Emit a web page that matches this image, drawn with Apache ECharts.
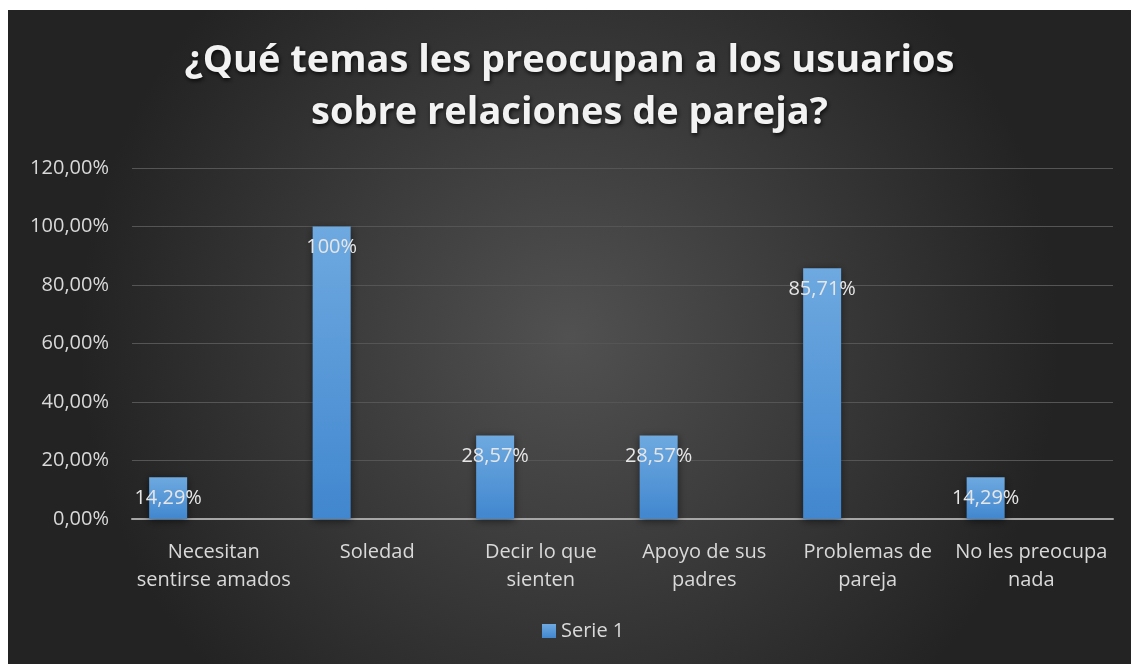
<!DOCTYPE html>
<html>
<head>
<meta charset="utf-8">
<script src="https://cdn.jsdelivr.net/npm/echarts@6/dist/echarts.min.js"></script>
<style>
  html, body { margin: 0; padding: 0; background: #fff; }
  #chart { position: absolute; left: 8px; top: 10px; width: 1123px; height: 654px; }
</style>
</head>
<body>
<div id="chart"></div>
<script>
// datos del gráfico
var categories = [
  'Necesitan\nsentirse amados',
  'Soledad',
  'Decir lo que\nsienten',
  'Apoyo de sus\npadres',
  'Problemas de\npareja',
  'No les preocupa\nnada'
]
var serie1 = [14.29, 100, 28.57, 28.57, 85.71, 14.29]
var yTicks = [0, 20, 40, 60, 80, 100, 120]

var font = 'Open Sans'

function fmtLabel(v) {
  if (v === 100) return '100%'
  return v.toFixed(2).replace('.', ',') + '%'
}

var chart = echarts.init(document.getElementById('chart'))
chart.setOption({
  backgroundColor: {
    type: 'radial', x: 0.5, y: 0.5, r: 0.75,
    colorStops: [
      { offset: 0, color: '#515151' },
      { offset: 1, color: '#232323' }
    ]
  },
  title: {
    text: '¿Qué temas les preocupan a los usuarios\nsobre relaciones de pareja?',
    left: 'center',
    top: 20,
    textStyle: {
      color: '#f2f2f2',
      fontFamily: font,
      fontWeight: 'bold',
      fontSize: 38,
      lineHeight: 52,
      textShadowColor: 'rgba(0,0,0,0.8)',
      textShadowBlur: 4,
      textShadowOffsetX: 1,
      textShadowOffsetY: 2
    }
  },
  grid: { left: 124, right: 18, top: 158, bottom: 145 },
  legend: {
    data: ['Serie 1'],
    bottom: 18,
    left: 529,
    itemWidth: 14,
    itemHeight: 14,
    itemGap: 6,
    icon: 'rect',
    textStyle: { color: '#d9d9d9', fontSize: 20, fontFamily: font }
  },
  xAxis: {
    type: 'category',
    data: categories,
    axisLine: { lineStyle: { color: '#a6a6a6', width: 2 } },
    axisTick: { show: false },
    axisLabel: {
      color: '#d9d9d9', fontSize: 20, fontFamily: font,
      lineHeight: 28, margin: 19, interval: 0
    }
  },
  yAxis: {
    type: 'value',
    min: yTicks[0],
    max: yTicks[yTicks.length - 1],
    interval: 20,
    axisLine: { show: false },
    axisTick: { show: false },
    splitLine: { lineStyle: { color: '#555555', width: 1 } },
    axisLabel: {
      color: '#d9d9d9', fontSize: 20, fontFamily: font, margin: 23,
      formatter: function(v) { return v.toFixed(2).replace('.', ',') + '%' }
    }
  },
  series: [
    {
      name: 'Serie 1',
      type: 'bar',
      data: serie1,
      barWidth: 38,
      barGap: '20%',
      itemStyle: {
        color: {
          type: 'linear', x: 0, y: 0, x2: 0, y2: 1,
          colorStops: [
            { offset: 0, color: '#6ea9e0' },
            { offset: 1, color: '#4187cf' }
          ]
        },
        shadowColor: 'rgba(0,0,0,0.55)',
        shadowBlur: 8,
        shadowOffsetY: 2
      },
      label: {
        show: true,
        position: 'insideTop',
        distance: 11,
        color: '#e6e6e6',
        fontSize: 20,
        fontFamily: font,
        formatter: function(p) { return fmtLabel(p.value) }
      }
    },
    // series vacías (Serie 2 y 3 sin datos) que desplazan la barra a la izquierda
    { name: 'Serie 2', type: 'bar', data: categories.map(function() { return '-' }), barWidth: 38 },
    { name: 'Serie 3', type: 'bar', data: categories.map(function() { return '-' }), barWidth: 38 }
  ]
})
</script>
</body>
</html>
